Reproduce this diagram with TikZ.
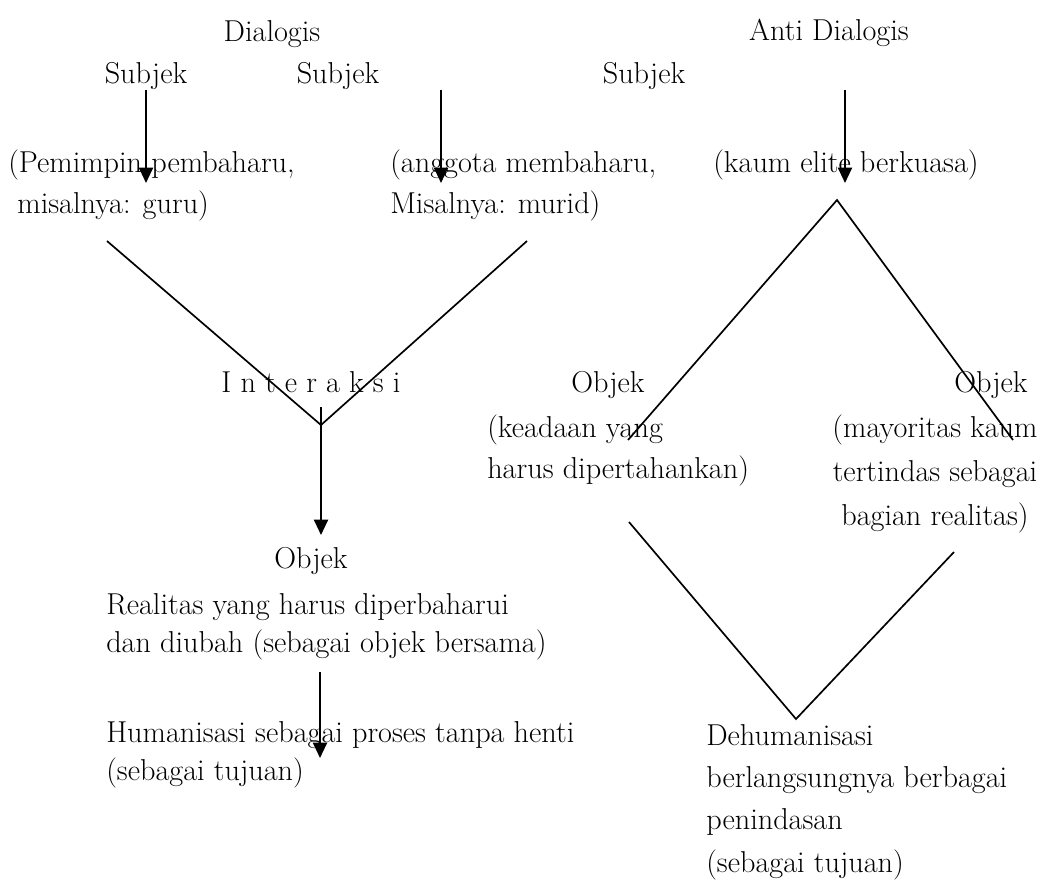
\documentclass[tikz,border=0pt]{standalone}
\usepackage{fontspec}
\usetikzlibrary{arrows.meta}
\tikzset{
	txt/.style={inner sep=0pt, font=\fontsize{21.5}{26.5}\selectfont},
	arr/.style={-{Triangle[length=11pt,width=10pt]}, line width=1.6pt},
	lin/.style={line width=1.2pt}
}
\begin{document}
\begin{tikzpicture}[x=0.025cm,y=-0.025cm]
		\useasboundingbox (0,0) rectangle (1044,883);
		% dialogis
		\node[txt,anchor=base] (dia) at (272,41) {Dialogis};
		\node[txt,anchor=base] (subA) at (146,83) {Subjek};
		\node[txt,anchor=base] (subB) at (338,83) {Subjek};
		\node[txt,anchor=base west,align=left,font=\fontsize{21.5}{29}\selectfont] (pemimpin) at (8,213) {(Pemimpin pembaharu,\\~misalnya: guru)};
		\node[txt,anchor=base west,align=left,font=\fontsize{21.5}{29}\selectfont] (anggota) at (390,213) {(anggota membaharu,\\Misalnya: murid)};
		\node[txt,anchor=base] (inter) at (311,392) {I n t e r a k s i};
		\node[txt,anchor=base] (objA) at (311,568) {Objek};
		\node[txt,anchor=base west,align=left] (realitas) at (106,652) {Realitas yang harus diperbaharui\\dan diubah (sebagai objek bersama)};
		\node[txt,anchor=base west,align=left,font=\fontsize{21.5}{27}\selectfont] (human) at (106,780) {Humanisasi sebagai proses tanpa henti\\(sebagai tujuan)};
		\coordinate (aA) at (146,90);
		\coordinate (bA) at (146,183);
		\coordinate (aB) at (441,90);
		\coordinate (bB) at (441,183);
		\coordinate (vA) at (107,241);
		\coordinate (vB) at (527,241);
		\coordinate (vtip) at (321,425);
		\coordinate (aI) at (321,407);
		\coordinate (bI) at (321,535);
		\coordinate (aO) at (320,672);
		\coordinate (bO) at (320,758);
		\draw[arr] (aA) -- (bA);
		\draw[arr] (aB) -- (bB);
		\draw[lin] (vA) -- (vtip) -- (vB);
		\draw[arr] (aI) -- (bI);
		\draw[arr] (aO) -- (bO);
		% anti dialogis
		\node[txt,anchor=base] (anti) at (829,40) {Anti Dialogis};
		\node[txt,anchor=base] (subC) at (644,83) {Subjek};
		\node[txt,anchor=base west] (kaum) at (713,172) {(kaum elite berkuasa)};
		\node[txt,anchor=base] (objB) at (608,392) {Objek};
		\node[txt,anchor=base west,align=left,font=\fontsize{21.5}{29}\selectfont] (keadaan) at (487,478) {(keadaan yang\\harus dipertahankan)};
		\node[txt,anchor=base] (objC) at (991,392) {Objek};
		\node[txt,anchor=base,align=center,font=\fontsize{21.5}{31}\selectfont] (mayoritas) at (935,525) {(mayoritas kaum\\tertindas sebagai\\bagian realitas)};
		\node[txt,anchor=base west,align=left,font=\fontsize{21.5}{30}\selectfont] (dehum) at (706,872) {Dehumanisasi\\berlangsungnya berbagai\\penindasan\\(sebagai tujuan)};
		\coordinate (aC) at (845,90);
		\coordinate (bC) at (845,183);
		\coordinate (top) at (837,200);
		\coordinate (tL) at (628,440);
		\coordinate (tR) at (1013,440);
		\coordinate (wL) at (629,522);
		\coordinate (wR) at (954,552);
		\coordinate (wtip) at (796,719);
		\draw[arr] (aC) -- (bC);
		\draw[lin] (tL) -- (top) -- (tR);
		\draw[lin] (wL) -- (wtip) -- (wR);
	\end{tikzpicture}
\end{document}
